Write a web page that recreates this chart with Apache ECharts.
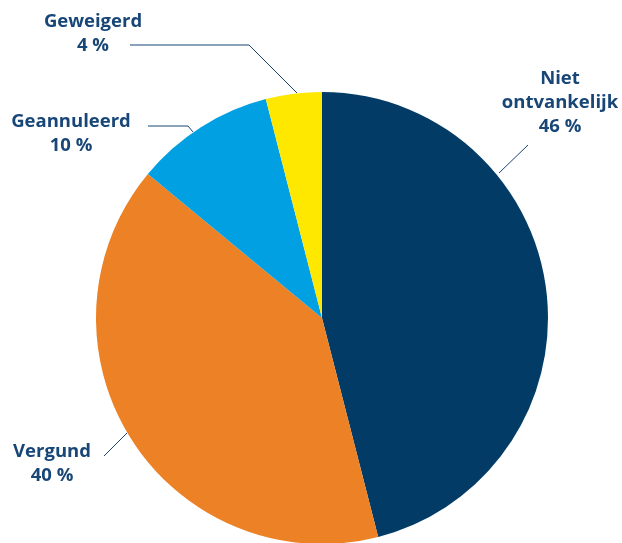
<!DOCTYPE html>
<html lang="nl">
<head>
    <meta charset="UTF-8">
    <title>Beslissingen</title>
    <script src="https://cdn.jsdelivr.net/npm/echarts@6/dist/echarts.min.js"></script>
    <style>
        html, body { margin: 0; padding: 0; background: #fff; }
        #pieChart { width: 622px; height: 543px; }
    </style>
</head>
<body>
<div id="pieChart"></div>
<script>
    // data
    var categories = ['Niet\nontvankelijk', 'Vergund', 'Geannuleerd', 'Geweigerd'];
    var percentages = [46, 40, 10, 4];
    var sliceColors = ['#023c66', '#ec8125', '#00a0e2', '#ffe800'];

    // label placement (pixels) per slice: [x, y, line points]
    var labelSpots = [
        { x: 560, y: 103, line: [[499, 173], [528, 145]] },
        { x: 52, y: 464, line: [[127, 433], [104, 456]] },
        { x: 71, y: 134, line: [[193, 132], [188, 126], [148, 126]] },
        { x: 93, y: 34, line: [[297, 93], [249, 45], [130, 45]] }
    ];

    var pieData = [];
    for (var i = 0; i < categories.length; i++) {
        pieData.push({
            name: categories[i],
            value: percentages[i],
            itemStyle: { color: sliceColors[i] }
        });
    }

    var myChart = echarts.init(document.getElementById('pieChart'));
    var option = {
        animation: false,
        series: [{
            type: 'pie',
            center: [322, 318],
            radius: 226,
            startAngle: 90,
            clockwise: true,
            data: pieData,
            itemStyle: { borderWidth: 0 },
            label: {
                show: true,
                position: 'outside',
                formatter: function (p) {
                    return p.name + '\n' + p.value + ' %';
                },
                fontFamily: '"Open Sans", "Noto Sans", sans-serif',
                fontWeight: 'bold',
                fontSize: 18.5,
                lineHeight: 24,
                color: '#174677',
                align: 'center',
                overflow: 'none',
                width: 200
            },
            labelLine: {
                show: true,
                lineStyle: { color: '#174677', width: 1 }
            },
            labelLayout: function (params) {
                var s = labelSpots[params.dataIndex];
                return {
                    x: s.x,
                    y: s.y,
                    align: 'center',
                    verticalAlign: 'middle',
                    labelLinePoints: s.line
                };
            }
        }]
    };
    myChart.setOption(option);
</script>
</body>
</html>
